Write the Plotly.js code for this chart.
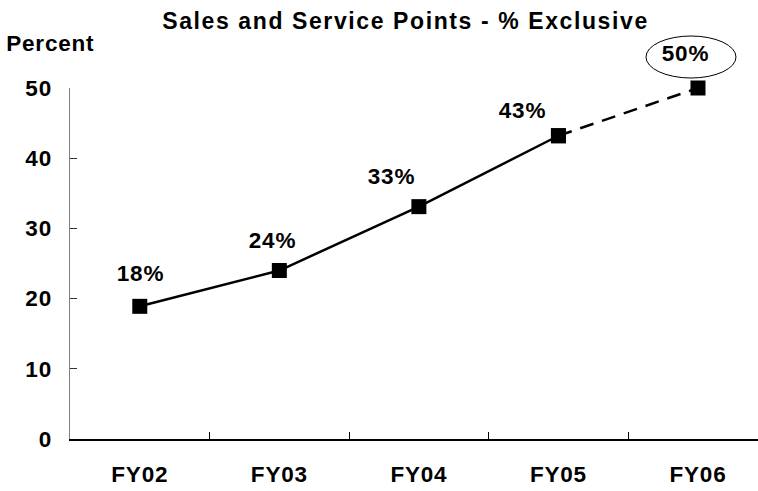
<!DOCTYPE html>
<html>
<head>
<meta charset="utf-8">
<script src="https://cdn.plot.ly/plotly-3.0.1.min.js"></script>
<style>
  html, body { margin: 0; padding: 0; background: #fff; }
  #chart { width: 758px; height: 491px; }
  #chart svg text { letter-spacing: 0.8px; }
  #chart svg .gtitle { letter-spacing: 1.6px; }
</style>
</head>
<body>
<div id="chart"></div>
<script>
// ---- data ----
const categories = ["FY02", "FY03", "FY04", "FY05", "FY06"];
const values = [18.9, 24, 33.1, 43.2, 50];
const labels = ["18%", "24%", "33%", "43%", "50%"];
const yTicks = [0, 10, 20, 30, 40, 50];

// ---- styling / placement (not data) ----
const FONT = "Liberation Sans, Arial, sans-serif";
const FS = 22.5;
const labelShift = [[1, 33], [-7, 30], [-27, 30], [-36, 25], [-12, 35]];
const actualCount = 4; // first four points are actual (solid line), last segment dashed
const xRange = [-0.5, 4.43];
const yRange = [0, 50];

const solid = {
  type: "scatter", mode: "lines+markers",
  x: categories.slice(0, actualCount), y: values.slice(0, actualCount),
  line: { color: "#000", width: 2.5 },
  marker: { symbol: "square", size: 15, color: "#000" },
  cliponaxis: false, hoverinfo: "skip"
};
const dashed = {
  type: "scatter", mode: "lines+markers",
  x: categories.slice(actualCount - 1), y: values.slice(actualCount - 1),
  line: { color: "#000", width: 2.5, dash: "14px,9px" },
  marker: { symbol: "square", size: 15, color: "#000" },
  cliponaxis: false, hoverinfo: "skip"
};

const annotations = labels.map((t, i) => ({
  x: categories[i], y: values[i], xref: "x", yref: "y",
  text: "<b>" + t + "</b>", showarrow: false,
  xshift: labelShift[i][0], yshift: labelShift[i][1],
  font: { family: FONT, size: FS, color: "#000" }
}));
annotations.push({
  xref: "paper", yref: "paper", x: -0.092, y: 1.127,
  xanchor: "left", yanchor: "middle", showarrow: false,
  text: "<b>Percent</b>", font: { family: FONT, size: FS, color: "#000" }
});

// ellipse around the last (target) label: anchored at the last point, in paper coords so it is not clipped
const last = categories.length - 1;
const shapes = [{
  type: "circle", xref: "paper", yref: "paper",
  xsizemode: "pixel", ysizemode: "pixel",
  xanchor: (last - xRange[0]) / (xRange[1] - xRange[0]),
  yanchor: (values[last] - yRange[0]) / (yRange[1] - yRange[0]),
  x0: -52, x1: 38, y0: 10, y1: 52,
  line: { color: "#000", width: 1 }, fillcolor: "rgba(0,0,0,0)"
}];

const layout = {
  width: 758, height: 491,
  margin: { l: 70, r: 0, t: 88, b: 52 },
  paper_bgcolor: "#fff", plot_bgcolor: "#fff",
  showlegend: false,
  font: { family: FONT, size: FS, color: "#000" },
  title: {
    text: "<b>Sales and Service Points - % Exclusive</b>",
    font: { family: FONT, size: 23, color: "#000" },
    xref: "container", yref: "container",
    x: 0.535, xanchor: "center", y: 0.958, yanchor: "middle"
  },
  xaxis: {
    type: "category", categoryarray: categories,
    range: xRange,
    showgrid: false, zeroline: false,
    showline: true, linecolor: "#000", linewidth: 1.5,
    ticks: "inside", ticklen: 7, tickwidth: 1, tickcolor: "#000",
    tickson: "boundaries",
    ticklabelstandoff: 14,
    tickfont: { family: FONT, size: FS, color: "#000", weight: "bold" },
    fixedrange: true
  },
  yaxis: {
    range: yRange,
    tickvals: yTicks, ticktext: yTicks.map(String),
    showgrid: false, zeroline: false,
    showline: true, linecolor: "#808080", linewidth: 1.5,
    ticks: "inside", ticklen: 7, tickwidth: 1, tickcolor: "#333",
    ticklabelstandoff: 12,
    tickfont: { family: FONT, size: FS, color: "#000", weight: "bold" },
    fixedrange: true
  },
  annotations: annotations,
  shapes: shapes
};

Plotly.newPlot("chart", [solid, dashed], layout, { displayModeBar: false, staticPlot: true });
</script>
</body>
</html>
